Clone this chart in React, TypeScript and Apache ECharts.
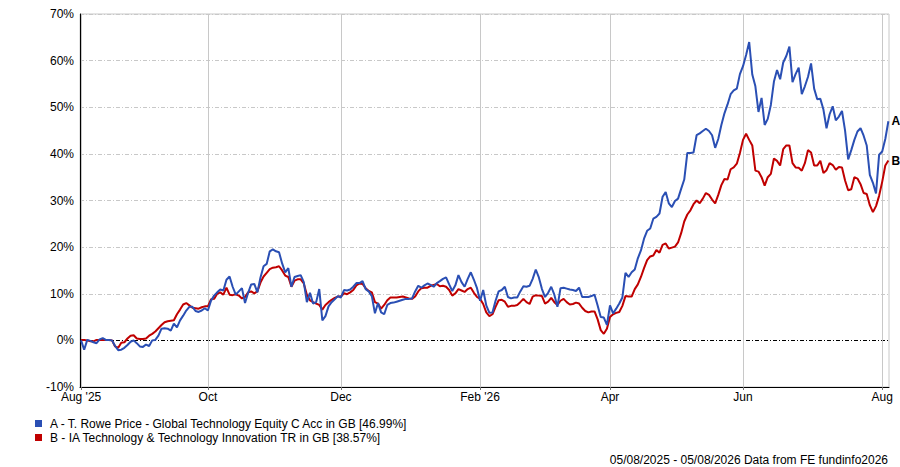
import React, { useEffect, useRef } from "react";
import * as echarts from "echarts";

// Trading-day index (0 = 05/08/2025 ... 261 = 05/08/2026) of each month tick
const monthTickIdx = [0, 41, 84, 129, 171, 214, 259];
const monthTickLabels = ["Aug '25", "Oct", "Dec", "Feb '26", "Apr", "Jun", "Aug"];

const yMin = -10;
const yMax = 70;
const yStep = 10;

const nameA = "A - T. Rowe Price - Global Technology Equity C Acc in GB [46.99%]";
const nameB = "B - IA Technology & Technology Innovation TR in GB [38.57%]";

// Cumulative % performance, one value per trading day
const seriesA = [
  0, -2, 0.1, -0.1, -0.4, -0.6, 0.2, 0.5, 0.1, 0.1,
  0, -1.2, -2.1, -2.0, -1.6, -1, -0.3, 0, -0.6, -1.3,
  -1.4, -0.9, -1.2, 0, 0.1, 1.0, 2.5, 2.6, 2.5, 2.1,
  3.6, 2.8, 4.3, 5.3, 6.4, 7.2, 7.2, 6.3, 6.1, 6.4,
  6.9, 6.4, 8.5, 9.6, 10.3, 10.9, 10.7, 13.0, 13.7, 11.5,
  9.8, 10.5, 11.2, 8.0, 10.2, 12.0, 12.1, 10.3, 13.5,
  15.9, 16.4, 19.1, 19.5, 19.1, 18.9, 16.5, 14.6, 15.5, 11.5,
  13.6, 13.8, 14.0, 12.5, 8.2, 10.2, 7.9, 8.2, 11.0, 4.3,
  5.2, 7.3, 8.2, 8.8, 9.5, 9.2, 10.8, 10.7, 10.9, 11.5,
  12.3, 12.3, 12.7, 11, 10.5, 9.5, 5.8, 8.0, 6.0, 5.6,
  7.6, 8.0, 8.1, 8.3, 8.5, 8.7, 8.9, 8.9, 9.0, 10.5,
  11.7, 11.3, 11.8, 12.2,
  11.9, 11.5, 12.3, 12.7, 13.2, 13.5, 12, 10.6, 11.8, 14,
  12.5, 11.5, 13.2, 14.6, 13, 11.2, 8.5, 10.8, 7.5, 5.9,
  6.0, 8.5, 10.5, 10.8, 11.5, 9.3, 9.0, 9.2, 9.2, 10.5,
  11.6, 11.5, 11.7, 13.2, 15.2, 13.5, 11.0, 9.3, 10.2, 11.5,
  9.8, 7.2, 11.2, 11.3, 11.1, 10.9, 10.8, 10.6, 11.3, 9.3,
  9.3, 9.3, 9.5, 9.8, 7.5, 5.0, 4.9, 3.3, 7.5, 5.8,
  6.8, 7.9,
  9.2, 14.5, 13.6, 14.6, 15.2, 17.6, 19.3, 21.8, 23.5, 24.0,
  26.1, 26.5, 27.2, 30.8, 31.8, 29.4, 28.6, 29.9, 30.4, 32.5,
  34.5, 40.2, 40.2, 40.3, 44.0, 44.4, 44.9, 45.4, 44.9, 44.0,
  41.3, 43.2, 46.2, 48.7, 50.6, 52.8, 53.6, 54.0, 57.1, 58.8,
  61.2, 64.0, 57.0, 54.5, 49.0,
  52.0, 46.2, 47.5, 50.5, 55.5, 58.0, 56.0, 59.6, 61.0, 63.0,
  55.4, 57.1, 58.5, 52.8, 54.5, 56.5, 59.4, 54.0, 51.7, 51.8,
  49.5, 45.5, 48.5, 50.2, 47.2, 48.0, 49.2, 45.0, 38.8, 40.8,
  43.0, 44.8, 45.5, 43.9, 41.8, 35.5, 33.8, 31.5, 39.8, 40.5,
  43.2, 46.99,
];

const seriesB = [
  0.1, 0.1, 0, -0.2, -0.2, 0.1, 0.1, 0.1, 0.1, 0.1,
  0, -1.3, -1.6, -0.5, -0.4, 0.4, 1.0, 1.1, 0.4, 0.3,
  0.3, 0.4, 1.0, 1.4, 1.9, 2.6, 3.3, 3.9, 4.1, 4.2,
  4.3, 5.6, 6.6, 7.7, 8.0, 7.5, 7.0, 6.9, 6.8, 7.1,
  7.3, 7.3, 8.8, 8.9, 10.0, 10.3, 9.8, 11.3, 9.8, 9.7,
  9.9, 9.6, 9.0, 9.3, 10.3, 10.5, 10.1, 10.5, 12.4,
  13.7, 14.5, 15.3, 15.6, 15.7, 15.9, 15, 13.9, 13.6, 11.5,
  12.8, 13.1, 13.1, 12.2, 9.8, 8.6, 8.2, 7.9, 7.6, 6.6,
  7.6, 8.2, 8.7, 9.1, 9.4, 9.4, 10.1, 9.9, 10.3, 10.8,
  11.8, 12.2, 12.1, 11.2, 10.6, 10.3, 8.2, 7.9, 6.8, 7.6,
  8.6, 9.2, 9.2, 9.2, 9.3, 9.4, 9.2, 9.0, 8.9, 9.4,
  10.5, 11.2, 11.3, 11.3,
  11.7, 11.9, 12.1, 11.6, 11.7, 11.5, 10.8, 9.6, 10.1, 11.0,
  10.7, 10.4, 11.0, 11.3, 10.2, 9.3, 8.9, 7.8, 6.0, 5.2,
  5.6, 7.2, 8.6, 8.7, 8.3, 7.2, 7.4, 7.4, 7.6, 8.2,
  8.9, 8.2, 7.8, 9.4, 9.7, 9.6, 9.5, 7.9, 8.3, 9.1,
  8.2, 7.6, 8.5, 8.9, 8.2, 7.7, 7.8, 8.1, 7.9, 7.0,
  6.3, 6.0, 6.2, 6.2, 4.5, 2.2, 1.4, 2.5, 5.0, 5.6,
  5.9, 6.1,
  7.4, 9.5, 9.4, 9.4, 11.0, 12.0, 13.6, 15.5, 17.2, 18.0,
  18.2, 19.4, 18.8, 20.5, 20.8, 19.7, 19.9, 20.1, 21.0, 23.0,
  25.5, 27.0, 27.9, 29.2, 30.0, 29.4, 30.4, 31.6, 31.2, 30.2,
  29.4, 31.2, 33.3, 34.6, 34.5, 36.7, 37.1, 37.9, 40.2, 43.0,
  44.3, 43.0, 41.8, 36.4, 36.2,
  35.0, 33.2, 35.0, 35.7, 39.0, 38.5, 37.5, 41.0, 41.8, 41.8,
  38.0, 37.1, 37.0, 36.4, 38.0, 40.8, 40.3, 37.5, 37.5, 38.5,
  35.9, 36.5, 38.0, 37.6, 36.6, 37.2, 37.1, 34.3, 32.2, 32.4,
  35.0, 34.7, 33.5, 31.6, 31.4, 29.0, 27.5, 28.8, 31.0, 34.0,
  37.5, 38.57,
];

const footerText = "05/08/2025 - 05/08/2026 Data from FE fundinfo2026";

const FONT = "'Liberation Sans', Arial, Helvetica, sans-serif";
const BLUE = "#2a4fb4";
const RED = "#c00000";
const GRID_GREY = "#c8c8c8";

export default function App() {
  const ref = useRef<HTMLDivElement>(null);

  useEffect(() => {
    if (!ref.current) return;
    const chart = echarts.init(ref.current, undefined, { renderer: "svg" });
    const nLines = (yMax - yMin) / yStep + 1;
    const splitColors: string[] = [];
    for (let k = 0; k < nLines; k++) {
      splitColors.push(yMin + k * yStep === 0 ? "#000000" : GRID_GREY);
    }
    const lastIdx = seriesA.length - 1;

    chart.setOption({
      animation: false,
      textStyle: { fontFamily: FONT },
      grid: {
        left: 80,
        right: 11,
        top: 14,
        bottom: 80,
        show: true,
        borderColor: GRID_GREY,
        borderWidth: 1,
        backgroundColor: "transparent",
        containLabel: false,
      },
      xAxis: {
        type: "value",
        min: -0.35,
        max: lastIdx + 0.2,
        axisLine: { show: true, onZero: false, lineStyle: { color: "#000", width: 1 } },
        axisTick: {
          show: true,
          customValues: monthTickIdx,
          length: 3,
          lineStyle: { color: "#777" },
        },
        axisLabel: {
          customValues: monthTickIdx,
          formatter: (v: number) => {
            const k = monthTickIdx.indexOf(Math.round(v));
            return k >= 0 ? monthTickLabels[k] : "";
          },
          color: "#000",
          fontSize: 12,
          fontFamily: FONT,
          margin: 4,
        },
        splitLine: { show: true, lineStyle: { color: GRID_GREY, width: 1, type: "solid" } },
      },
      yAxis: {
        type: "value",
        min: yMin,
        max: yMax,
        interval: yStep,
        axisLine: { show: true, onZero: false, lineStyle: { color: "#000", width: 1 } },
        axisTick: { show: false },
        axisLabel: {
          formatter: "{value}%",
          color: "#000",
          fontSize: 12,
          fontFamily: FONT,
          margin: 6,
          lineHeight: 12,
        },
        splitLine: {
          show: true,
          lineStyle: { color: splitColors, width: 1, type: [4, 2, 1, 2] },
        },
      },
      legend: {
        orient: "vertical",
        left: 35,
        top: 417,
        itemWidth: 7,
        itemHeight: 7,
        itemGap: 1,
        icon: "rect",
        selectedMode: false,
        padding: 0,
        textStyle: {
          color: "#000",
          fontSize: 12,
          fontFamily: FONT,
          lineHeight: 13,
          padding: [0, 0, 0, 3],
        },
        data: [nameA, nameB],
      },
      graphic: [
        {
          type: "text",
          right: 12,
          top: 454,
          style: {
            text: footerText,
            fill: "#000",
            font: `12px ${FONT}`,
          },
        },
      ],
      series: [
        {
          name: nameB,
          type: "line",
          data: seriesB.map((v, i) => [i, v]),
          showSymbol: false,
          symbol: "none",
          color: RED,
          lineStyle: { color: RED, width: 2 },
          z: 3,
          emphasis: { disabled: true },
          endLabel: {
            show: true,
            formatter: "B",
            color: "#000",
            fontWeight: "bold",
            fontSize: 12,
            fontFamily: FONT,
            distance: 3,
          },
        },
        {
          name: nameA,
          type: "line",
          data: seriesA.map((v, i) => [i, v]),
          showSymbol: false,
          symbol: "none",
          color: BLUE,
          lineStyle: { color: BLUE, width: 2 },
          z: 4,
          emphasis: { disabled: true },
          endLabel: {
            show: true,
            formatter: "A",
            color: "#000",
            fontWeight: "bold",
            fontSize: 12,
            fontFamily: FONT,
            distance: 3,
          },
        },
      ],
    });

    return () => {
      chart.dispose();
    };
  }, []);

  return (
    <div
      ref={ref}
      style={{ position: "absolute", left: 0, top: 0, width: 900, height: 467, background: "#fff" }}
    />
  );
}
